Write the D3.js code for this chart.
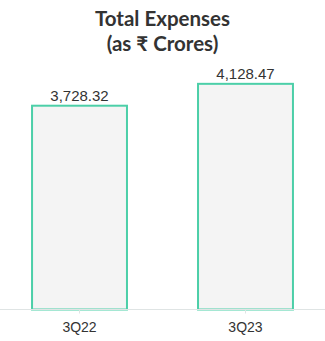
<!DOCTYPE html>
<html><head><meta charset="utf-8">
<script src="https://cdn.jsdelivr.net/npm/d3@7"></script>
<style>html,body{margin:0;padding:0;background:#fff;}</style>
</head><body>
<svg id="c" width="325" height="341"></svg>
<script>
const categories = ["3Q22", "3Q23"];
const values = [3728.32, 4128.47];
const valueLabels = ["3,728.32", "4,128.47"];
const titleLines = ["Total Expenses", "(as ₹ Crores)"];

const W = 325, H = 341;
const svg = d3.select("#c");
const baseY = 309.5;
const x = d3.scaleBand().domain(categories).range([0, 325]).paddingInner(0.416).paddingOuter(0.187);
const y = d3.scaleLinear().domain([0, 5000]).range([baseY, baseY - 273.3]);

svg.append("g").selectAll("text").data(titleLines).join("text")
  .attr("x", 162.5).attr("y", (d, i) => 26 + i * 25)
  .attr("text-anchor", "middle")
  .attr("font-family", "Lato").attr("font-weight", "bold").attr("font-size", 20.5)
  .attr("fill", "#333").text(d => d);

const data = categories.map((c, i) => ({c, v: values[i], l: valueLabels[i]}));

svg.append("g").selectAll("rect").data(data).join("rect")
  .attr("x", d => x(d.c) + 1).attr("width", x.bandwidth() - 2)
  .attr("y", d => y(d.v)).attr("height", d => baseY - y(d.v))
  .attr("fill", "#f4f4f4").attr("stroke", "#4ccfa8").attr("stroke-width", 2);

svg.append("g").selectAll("text").data(data).join("text")
  .attr("x", d => x(d.c) + x.bandwidth() / 2).attr("y", d => y(d.v) - 5)
  .attr("text-anchor", "middle")
  .attr("font-family", "Liberation Sans, Arial, sans-serif").attr("font-size", 15)
  .attr("fill", "#333").text(d => d.l);

const axis = svg.append("g").attr("transform", `translate(0,${baseY})`)
  .call(d3.axisBottom(x).tickSize(4).tickPadding(9).tickSizeOuter(0));
axis.select(".domain").attr("stroke", "#dfe4e4").attr("d", "M0,0H325");
axis.selectAll(".tick line").attr("stroke", "#dfe4e4");
axis.selectAll(".tick text").attr("font-family", "Liberation Sans, Arial, sans-serif")
  .attr("font-size", 14).attr("fill", "#333");
</script>
</body></html>
